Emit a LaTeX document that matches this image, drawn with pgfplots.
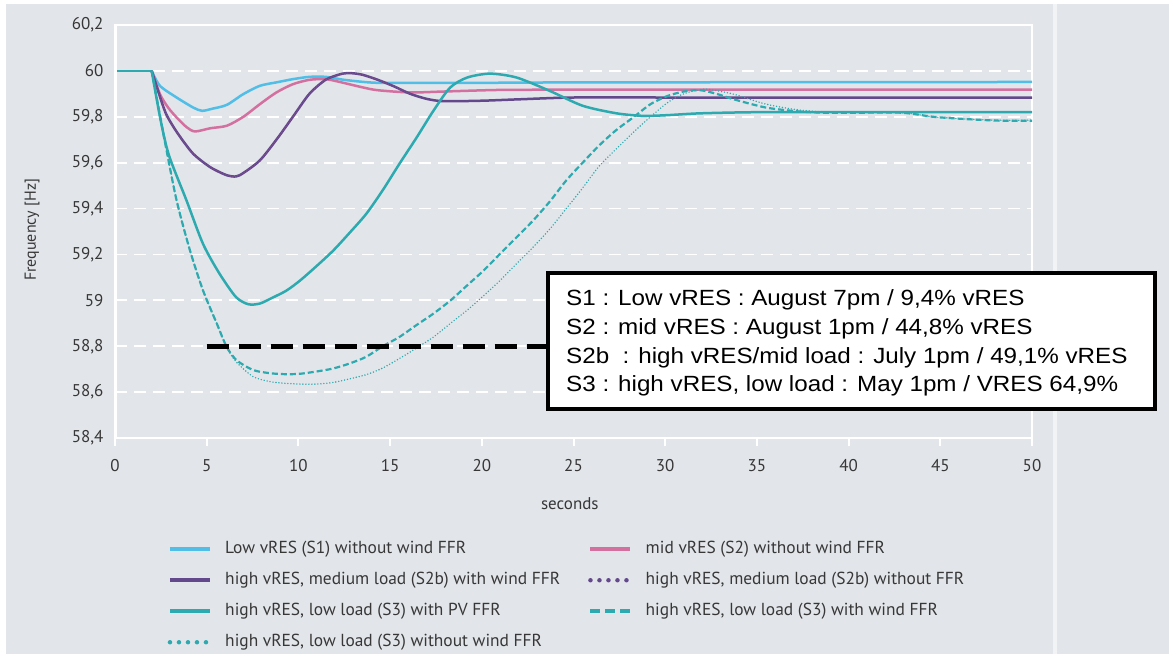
\documentclass[border=0pt]{standalone}
\usepackage{pgfplots}
\pgfplotsset{compat=1.18}
\usepackage{fontspec}
\setmainfont{PT Sans}
\newfontfamily\boxfont[FakeStretch=1.1]{Liberation Sans}
\definecolor{bg}{RGB}{226,229,233}
\definecolor{sone}{RGB}{80,190,230}
\definecolor{stwo}{RGB}{212,112,160}
\definecolor{stwob}{RGB}{100,72,140}
\definecolor{sthree}{RGB}{45,170,175}
\definecolor{txt}{RGB}{55,55,55}
\begin{document}
\begin{tikzpicture}[x=1pt,y=1pt]
\fill[white] (0,0) rectangle (1169,654);
\fill[bg] (6,0) rectangle (1053,650);
\fill[bg] (1057,0) rectangle (1169,650);
\fill[white!55!bg] (1053,0) rectangle (1057,650);
\begin{axis}[
  at={(115pt,216pt)}, anchor=south west,
  width=917pt, height=413pt, scale only axis,
  xmin=0, xmax=50, ymin=58.4, ymax=60.2,
  axis line style={draw=white, line width=1.5pt},
  xtick={0,5,...,50},
  ytick={58.4,58.6,...,60.21},
  xtick pos=left,
  ytick style={draw=none},
  xtick style={draw=white, line width=2pt},
  tick align=outside,
  major tick length=8pt,
  xticklabel shift=10pt,
  ymajorgrids,
  grid style={draw=white, line width=1.8pt, dash pattern=on 12pt off 7pt},
  ticklabel style={font=\fontsize{17}{20}\selectfont, text=txt},
  /pgf/number format/assume math mode=true,
  yticklabel style={/pgf/number format/fixed, /pgf/number format/precision=1, /pgf/number format/use comma},
  xlabel={seconds}, ylabel={Frequency [Hz]},
  every axis x label/.style={at={(rel axis cs:0.496,-0.16)}, anchor=center, font=\fontsize{17}{20}\selectfont, text=txt},
  every axis y label/.style={at={(rel axis cs:-0.0905,0.504)}, anchor=center, rotate=90, font=\fontsize{16}{19}\selectfont, text=txt},
  legend columns=2,
  legend cell align=left,
  legend style={at={(rel axis cs:0.0573,-0.2495)}, anchor=north west, draw=none, fill=none,
    font=\fontsize{17.4}{20}\selectfont, text=txt, row sep=15pt, inner sep=0pt,
    nodes={text height=12pt, text depth=4pt, inner sep=0pt},
    /tikz/every odd column/.append style={column sep=13pt},
    /tikz/every even column/.append style={column sep=28pt}},
  legend image code/.code={\draw[#1] (0pt,0pt) -- (40pt,0pt);},
]
\addlegendimage{sone, line width=3.5pt}
\addlegendentry{Low vRES (S1) without wind FFR}
\addlegendimage{stwo, line width=3.5pt}
\addlegendentry{mid vRES (S2) without wind FFR}
\addlegendimage{stwob, line width=3.5pt}
\addlegendentry{high vRES, medium load (S2b) with wind FFR}
\addlegendimage{stwob, line width=4.5pt, line cap=round, dash pattern=on 0pt off 9pt}
\addlegendentry{high vRES, medium load (S2b) without FFR}
\addlegendimage{sthree, line width=3.5pt}
\addlegendentry{high vRES, low load (S3) with PV FFR}
\addlegendimage{sthree, line width=3.8pt, dash pattern=on 10pt off 5pt}
\addlegendentry{high vRES, low load (S3) with wind FFR}
\addlegendimage{sthree, line width=4.5pt, line cap=round, dash pattern=on 0pt off 9pt}
\addlegendentry{high vRES, low load (S3) without wind FFR}

% pre-event flat segment (all scenarios)
\addplot[sthree, line width=2.5pt, sharp plot, forget plot] coordinates {(0,60) (2,60)};
% S1
\addplot[sone, line width=2.5pt, smooth, tension=0.45, forget plot] coordinates {
(2,60) (2.45,59.935) (3.36,59.884) (4.27,59.84) (4.75,59.826) (5.3,59.835) (6.1,59.852)
(7.0,59.899) (7.9,59.935) (8.8,59.95) (9.7,59.964) (10.6,59.974) (11.5,59.974) (12.4,59.962)
(13.4,59.953) (14.3,59.948) (16,59.948) (20,59.948) (25,59.950) (30,59.950) (35,59.951)
(40,59.951) (45,59.951) (50,59.952)};
% S2
\addplot[stwo, line width=2.5pt, smooth, tension=0.45, forget plot] coordinates {
(2,60) (2.45,59.899) (2.9,59.84) (3.36,59.797) (3.9,59.755) (4.36,59.736) (5.2,59.75)
(6.1,59.761) (7.0,59.80) (7.9,59.855) (8.8,59.906) (9.7,59.942) (10.6,59.961) (11.5,59.964)
(12.4,59.949) (13.4,59.93) (14.3,59.916) (16.1,59.906) (17.9,59.91) (21,59.917) (25,59.918)
(30,59.918) (35,59.918) (40,59.918) (50,59.918)};
% S2b with wind FFR
\addplot[stwob, line width=2.5pt, smooth, tension=0.45, forget plot] coordinates {
(2,60) (2.4,59.9) (2.8,59.81) (3.4,59.73) (4.25,59.64) (5.2,59.58) (6.1,59.545) (6.6,59.54)
(7.0,59.555) (7.9,59.61) (8.8,59.70) (9.7,59.80) (10.6,59.90) (11.5,59.962) (12.4,59.988)
(12.9,59.99) (13.5,59.983) (14.3,59.962) (15.2,59.933) (16.1,59.90) (17.0,59.878) (17.9,59.868)
(20,59.87) (22,59.876) (25,59.884) (30,59.884) (40,59.884) (50,59.884)};
% S2b without FFR
\addplot[stwob!80!stwo, line width=1.6pt, line cap=round, dash pattern=on 0pt off 2.5pt, smooth, tension=0.45, forget plot] coordinates {
(2,60) (2.4,59.9) (2.8,59.81) (3.4,59.73) (4.25,59.64) (5.2,59.58) (6.1,59.545) (6.6,59.54)
(7.0,59.555) (7.9,59.61) (8.8,59.70) (9.7,59.80) (10.6,59.90) (11.5,59.962) (12.4,59.988)
(12.9,59.99) (13.5,59.983) (14.3,59.962) (15.2,59.933) (16.1,59.90)};
% S3 with PV FFR
\addplot[sthree, line width=2.5pt, smooth, tension=0.45, forget plot] coordinates {
(2,60) (2.5,59.78) (2.95,59.63) (3.9,59.435) (4.8,59.246) (5.7,59.116) (6.6,59.014)
(7.27,58.983) (7.9,58.986) (8.6,59.012) (9.36,59.043) (10.1,59.087) (11.0,59.15) (11.9,59.217)
(12.8,59.295) (13.7,59.377) (14.6,59.48) (15.5,59.594) (16.45,59.71) (17.36,59.826)
(18.27,59.927) (19.2,59.971) (20.45,59.988) (21.9,59.971) (23.7,59.913) (25.5,59.848)
(27.35,59.815) (28.8,59.804) (30.1,59.807) (31.9,59.815) (35,59.82) (40,59.82) (50,59.82)};
% S3 with wind FFR
\addplot[sthree, line width=2.2pt, dash pattern=on 6pt off 3pt, smooth, tension=0.45, forget plot] coordinates {
(2,60) (2.7,59.70) (3.36,59.435) (4.09,59.217) (4.8,59.043) (5.55,58.899) (6.09,58.797)
(6.63,58.739) (7.54,58.696) (8.5,58.682) (9.36,58.678) (10.1,58.68) (11.0,58.69) (11.9,58.703)
(12.8,58.725) (13.7,58.754) (14.6,58.80) (15.5,58.84) (16.4,58.89) (17.36,58.942) (18.3,59.0)
(19.2,59.065) (20.1,59.13) (21.0,59.203) (21.9,59.275) (22.8,59.348) (23.7,59.43) (24.6,59.522)
(25.5,59.60) (26.4,59.675) (27.3,59.74) (28.3,59.80) (29.2,59.855) (30.1,59.89) (31.0,59.91)
(31.9,59.916) (32.8,59.90) (33.7,59.877) (35.5,59.84) (37.35,59.823) (39.2,59.817) (42.8,59.818)
(44.6,59.80) (46.4,59.79) (48.25,59.783) (50,59.783)};
% S3 without wind FFR
\addplot[sthree, line width=1.6pt, line cap=round, dash pattern=on 0pt off 3pt, smooth, tension=0.45, forget plot] coordinates {
(2,60) (2.7,59.70) (3.36,59.435) (4.09,59.217) (4.8,59.043) (5.55,58.899) (6.09,58.795)
(6.63,58.73) (7.54,58.667) (8.5,58.645) (9.36,58.638) (10.1,58.635) (11.0,58.635) (11.9,58.642)
(12.8,58.658) (13.7,58.676) (14.6,58.705) (15.5,58.746) (16.4,58.79) (17.36,58.84) (18.3,58.9)
(19.2,58.957) (20.1,59.02) (21.0,59.087) (21.9,59.16) (22.8,59.232) (23.7,59.31) (24.6,59.399)
(25.5,59.49) (26.4,59.585) (27.4,59.665) (28.3,59.735) (29.2,59.80) (30.1,59.86) (30.8,59.893)
(31.5,59.912) (32.3,59.92) (33.7,59.899) (35.5,59.855) (37.35,59.829) (39.2,59.82) (42.8,59.818)
(44.6,59.80) (46.4,59.79) (48.25,59.785) (50,59.785)};
% threshold
\addplot[black, line width=5pt, dash pattern=on 22pt off 10pt, sharp plot, forget plot] coordinates {(5,58.8) (24,58.8)};
\draw[white, line width=3pt] (rel axis cs:0,0) -- (rel axis cs:0,1);
\draw[white, line width=3pt] (rel axis cs:0,0) -- (rel axis cs:1,0);
\end{axis}
\draw[black, line width=4pt, fill=white] (548,245) rectangle (1155,381);
\begin{scope}[every node/.style={anchor=base west, inner sep=0pt, font=\boxfont\fontsize{22}{26}\selectfont}]
\node at (566,348) {S1 : Low vRES : August 7pm / 9,4\% vRES};
\node at (566,319.7) {S2 : mid vRES : August 1pm / 44,8\% vRES};
\node at (566,290.7) {S2b \ : high vRES/mid load : July 1pm / 49,1\% vRES};
\node at (566,262.3) {S3 : high vRES, low load : May 1pm / VRES 64,9\%};
\end{scope}
\end{tikzpicture}
\end{document}
